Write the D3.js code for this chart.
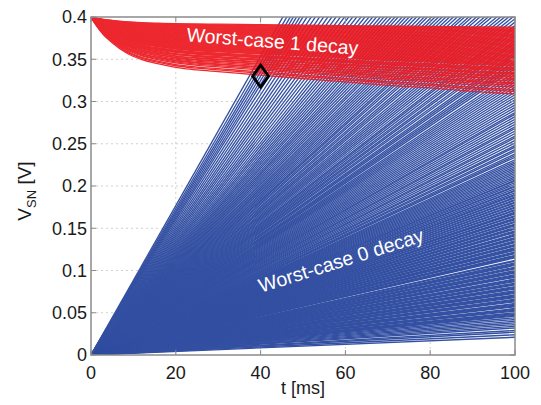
<!DOCTYPE html>
<html>
<head>
<meta charset="utf-8">
<script src="https://cdn.jsdelivr.net/npm/d3@7"></script>
<style>
  body { margin: 0; background: #fff; }
  svg { display: block; font-family: "Liberation Sans", Arial, sans-serif; }
</style>
</head>
<body>
<svg id="chart" width="541" height="405"></svg>
<script>
// value at t = 100 ms of each "worst-case 0" trajectory (straight ramps starting at 0 V)
const blueFinal = [
  0.021, 0.024, 0.027, 0.029, 0.032, 0.034, 0.036, 0.038, 0.040, 0.042, 0.044, 0.046,
  0.047, 0.048, 0.049, 0.050, 0.052, 0.053, 0.054, 0.055, 0.057, 0.058, 0.059, 0.060, 0.061, 0.063, 0.064, 0.065, 0.066, 0.068, 0.069, 0.070,
  0.071, 0.073, 0.074, 0.075, 0.076, 0.078, 0.079, 0.080, 0.081, 0.083, 0.084, 0.085, 0.087, 0.088, 0.089, 0.090, 0.092, 0.093, 0.094, 0.095,
  0.097, 0.098, 0.099, 0.100, 0.102, 0.103, 0.104, 0.106, 0.107, 0.108, 0.109, 0.111, 0.112, 0.115, 0.116, 0.117, 0.118, 0.120, 0.121,
  0.122, 0.124, 0.125, 0.126, 0.127, 0.129, 0.130, 0.131, 0.133, 0.134, 0.135, 0.137, 0.138, 0.139, 0.141, 0.142, 0.143, 0.145, 0.146, 0.147,
  0.149, 0.150, 0.151, 0.153, 0.154, 0.155, 0.157, 0.158, 0.160, 0.161, 0.162, 0.164, 0.165, 0.167, 0.168, 0.169, 0.171, 0.172, 0.174, 0.175,
  0.177, 0.178, 0.180, 0.181, 0.183, 0.184, 0.186, 0.187, 0.189, 0.190, 0.192, 0.194, 0.195, 0.197, 0.199, 0.200, 0.202, 0.204, 0.206, 0.207,
  0.209, 0.211, 0.213, 0.215, 0.217, 0.219, 0.221, 0.223, 0.225, 0.227, 0.229, 0.231, 0.234, 0.236, 0.238, 0.241, 0.243, 0.246, 0.248, 0.251,
  0.254, 0.257, 0.259, 0.262, 0.265, 0.268, 0.270, 0.273, 0.276, 0.279, 0.282, 0.285, 0.287, 0.290, 0.293, 0.296, 0.299, 0.302, 0.305, 0.308,
  0.311, 0.314, 0.317, 0.320, 0.323, 0.326, 0.329, 0.332, 0.335, 0.339, 0.342, 0.345, 0.348, 0.352, 0.355, 0.358, 0.362, 0.365, 0.369, 0.372,
  0.376, 0.379, 0.383, 0.387, 0.390, 0.394, 0.398,
  0.402, 0.406, 0.410, 0.414, 0.418, 0.423, 0.427, 0.431, 0.436, 0.440, 0.445, 0.449, 0.454, 0.458, 0.463, 0.468, 0.473, 0.478, 0.483, 0.488,
  0.493, 0.498, 0.504, 0.509, 0.515, 0.521, 0.527, 0.533, 0.539, 0.545, 0.552, 0.558, 0.565, 0.572, 0.579, 0.586, 0.594, 0.602, 0.610, 0.619, 0.628,
  0.638, 0.648, 0.658, 0.669, 0.680, 0.692, 0.704, 0.716, 0.729, 0.742, 0.756, 0.770, 0.785, 0.800, 0.812, 0.825, 0.838, 0.851, 0.866, 0.884
];

// value at t = 100 ms of each "worst-case 1" decay curve (all start at 0.4 V)
const redFinal = [
  0.309, 0.312, 0.314, 0.317, 0.319, 0.321, 0.322, 0.324, 0.326, 0.327, 0.329, 0.330, 0.332, 0.333, 0.334, 0.336, 0.337, 0.338, 0.339, 0.340,
  0.342, 0.343, 0.344, 0.345, 0.346, 0.347, 0.348, 0.349, 0.350, 0.351, 0.352, 0.353, 0.354, 0.355, 0.356, 0.357, 0.358, 0.359, 0.360, 0.361,
  0.362, 0.363, 0.364, 0.365, 0.366, 0.367, 0.368, 0.369, 0.370, 0.371, 0.372, 0.373, 0.374, 0.375, 0.376, 0.377, 0.378, 0.379, 0.380, 0.381,
  0.382, 0.383, 0.384, 0.385, 0.386, 0.387, 0.388
];
// shape of the decay: drop below 0.4 V at these times
const redT    = [0, 1, 2, 3, 5, 8, 12, 16, 20, 25, 30, 40, 50, 60, 70, 80, 90, 100];
const redDrop = [0, 0.008, 0.015, 0.021, 0.030, 0.041, 0.050, 0.055, 0.059, 0.062, 0.064, 0.068, 0.072, 0.076, 0.080, 0.083, 0.087, 0.090];

const marker = [40, 0.33];
const xTicks = [0, 20, 40, 60, 80, 100];
const yTicks = [0, 0.05, 0.1, 0.15, 0.2, 0.25, 0.3, 0.35, 0.4];
const yTickText = ['0', '0.05', '0.1', '0.15', '0.2', '0.25', '0.3', '0.35', '0.4'];

const pLeft = 91, pRight = 515, pTop = 17, pBottom = 355;

const svg = d3.select('#chart');

const x = d3.scaleLinear().domain([0, 100]).range([pLeft, pRight]);
const y = d3.scaleLinear().domain([0, 0.4]).range([pBottom, pTop]);

svg.append('defs').append('clipPath').attr('id', 'plot')
  .append('rect')
  .attr('x', pLeft).attr('y', pTop)
  .attr('width', pRight - pLeft).attr('height', pBottom - pTop);

// dotted grid
const grid = svg.append('g').attr('stroke', '#cfcfcf').attr('stroke-dasharray', '2,3');
grid.selectAll('.gx').data(xTicks.slice(1, -1)).enter().append('line')
  .attr('x1', d => x(d)).attr('x2', d => x(d))
  .attr('y1', pTop).attr('y2', pBottom);
grid.selectAll('.gy').data(yTicks.slice(1, -1)).enter().append('line')
  .attr('x1', pLeft).attr('x2', pRight)
  .attr('y1', d => y(d)).attr('y2', d => y(d));

const plot = svg.append('g').attr('clip-path', 'url(#plot)');

const line = d3.line().x(d => x(d[0])).y(d => y(d[1]));
const curve = d3.line().x(d => x(d[0])).y(d => y(d[1])).curve(d3.curveMonotoneX);
const dropMax = redDrop[redDrop.length - 1];

// blue ramps
plot.append('g')
  .selectAll('path')
  .data(blueFinal)
  .enter()
  .append('path')
  .attr('d', f => line([[0, 0], [100, f]]))
  .attr('fill', 'none')
  .attr('stroke', '#3450a2')
  .attr('stroke-width', 1.35);

// red decays, the group a touch see-through so ramps under it still show a little
plot.append('g')
  .attr('opacity', 0.94)
  .selectAll('path')
  .data(redFinal)
  .enter()
  .append('path')
  .attr('d', f => curve(redT.map((t, i) => [t, 0.4 - (0.4 - f) * redDrop[i] / dropMax])))
  .attr('fill', 'none')
  .attr('stroke', '#ec1c24')
  .attr('stroke-width', 1.3);

// box and ticks
const axisColor = '#8a8a8a';
svg.append('rect')
  .attr('x', pLeft).attr('y', pTop)
  .attr('width', pRight - pLeft).attr('height', pBottom - pTop)
  .attr('fill', 'none').attr('stroke', axisColor).attr('stroke-width', 1.5);

const ticks = svg.append('g').attr('stroke', axisColor).attr('stroke-width', 1);
xTicks.forEach(t => {
  ticks.append('line').attr('x1', x(t)).attr('x2', x(t)).attr('y1', pBottom).attr('y2', pBottom - 5);
  ticks.append('line').attr('x1', x(t)).attr('x2', x(t)).attr('y1', pTop).attr('y2', pTop + 5);
});
yTicks.forEach(v => {
  ticks.append('line').attr('x1', pLeft).attr('x2', pLeft + 5).attr('y1', y(v)).attr('y2', y(v));
  ticks.append('line').attr('x1', pRight).attr('x2', pRight - 5).attr('y1', y(v)).attr('y2', y(v));
});

// tick labels
svg.append('g').selectAll('text').data(xTicks).enter().append('text')
  .attr('x', d => x(d)).attr('y', 379)
  .attr('text-anchor', 'middle')
  .attr('font-size', 18).attr('fill', '#1a1a1a')
  .text(d => d);

svg.append('g').selectAll('text').data(yTicks).enter().append('text')
  .attr('x', pLeft - 4).attr('y', d => y(d))
  .attr('dy', '0.35em')
  .attr('text-anchor', 'end')
  .attr('font-size', 18).attr('fill', '#1a1a1a')
  .text((d, i) => yTickText[i]);

// axis titles
svg.append('text')
  .attr('x', x(50)).attr('y', 394)
  .attr('text-anchor', 'middle')
  .attr('font-size', 18).attr('fill', '#1a1a1a')
  .text('t [ms]');

const yl = svg.append('text')
  .attr('transform', 'translate(31,191) rotate(-90)')
  .attr('text-anchor', 'middle')
  .attr('font-size', 19).attr('fill', '#1a1a1a');
yl.append('tspan').text('V');
yl.append('tspan').attr('font-size', 13).attr('dy', 5).text('SN');
yl.append('tspan').attr('dy', -5).text(' [V]');

// marker
svg.append('path')
  .attr('d', d3.symbol(d3.symbolDiamond, 140)())
  .attr('transform', `translate(${x(marker[0])},${y(marker[1])}) scale(1.25,1)`)
  .attr('fill', 'none')
  .attr('stroke', '#000')
  .attr('stroke-width', 2.4);

// annotations
svg.append('text')
  .attr('transform', 'translate(272,48) rotate(4.5)')
  .attr('text-anchor', 'middle')
  .attr('font-size', 19.5).attr('fill', '#fff')
  .text('Worst-case 1 decay');

svg.append('text')
  .attr('transform', 'translate(343,267) rotate(-17.5)')
  .attr('text-anchor', 'middle')
  .attr('font-size', 19.5).attr('fill', '#fff')
  .text('Worst-case 0 decay');
</script>
</body>
</html>
